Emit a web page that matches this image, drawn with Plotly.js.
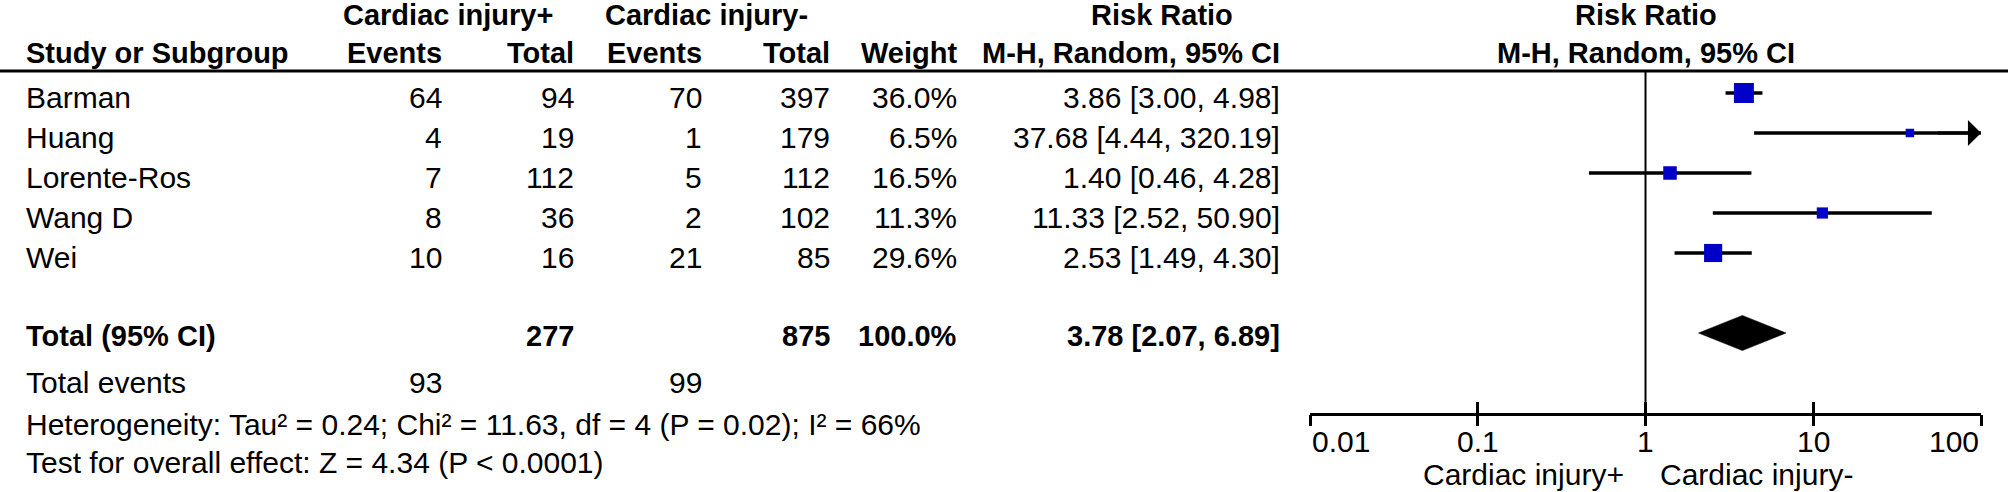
<!DOCTYPE html>
<html>
<head>
<meta charset="utf-8">
<script src="https://cdn.plot.ly/plotly-3.0.1.min.js"></script>
<style>html,body{margin:0;padding:0;background:#fff;}</style>
</head>
<body>
<div id="chart" style="width:2008px;height:492px;"></div>
<script>
// ---------------- DATA ----------------
const studies    = ['Barman', 'Huang', 'Lorente-Ros', 'Wang D', 'Wei'];
const eventsPos  = [64, 4, 7, 8, 10];
const totalPos   = [94, 19, 112, 36, 16];
const eventsNeg  = [70, 1, 5, 2, 21];
const totalNeg   = [397, 179, 112, 102, 85];
const weights    = [36.0, 6.5, 16.5, 11.3, 29.6];
const rr         = [3.86, 37.68, 1.40, 11.33, 2.53];
const rrLower    = [3.00, 4.44, 0.46, 2.52, 1.49];
const rrUpper    = [4.98, 320.19, 4.28, 50.90, 4.30];

const totalLabel   = 'Total (95% CI)';
const totalPosN    = 277;
const totalNegN    = 875;
const totalWeight  = 100.0;
const totalRR      = 3.78;
const totalLower   = 2.07;
const totalUpper   = 6.89;
const totalEvents  = [93, 99];

const groupHeaders = ['Cardiac injury+', 'Cardiac injury-'];
const colHeaders   = ['Study or Subgroup', 'Events', 'Total', 'Events', 'Total', 'Weight', 'M-H, Random, 95% CI'];
const effectTitle  = 'Risk Ratio';
const effectSub    = 'M-H, Random, 95% CI';
const hetText      = 'Heterogeneity: Tau\u00b2 = 0.24; Chi\u00b2 = 11.63, df = 4 (P = 0.02); I\u00b2 = 66%';
const testText     = 'Test for overall effect: Z = 4.34 (P < 0.0001)';
const tickVals     = [0.01, 0.1, 1, 10, 100];
const tickText     = ['0.01', '0.1', '1', '10', '100'];
const favourLabels = ['Cardiac injury+', 'Cardiac injury-'];

// ---------------- LAYOUT CONSTANTS ----------------
const W = 2008, H = 492;
const FONT = 'Liberation Sans, Arial, sans-serif';
const FS = 30, FSB = 29;
const px = v => v / W;                       // pixel x -> paper
const py = v => 1 - v / H;                   // pixel y -> paper
const ROW0 = 93, ROWH = 40;                  // first study row centre, row height (px)
const rowOf = p => (p - ROW0) / ROWH;        // pixel y -> row index
const col = { study: 24, ePos: 444, tPos: 576, eNeg: 704, tNeg: 832, wt: 959, ci: 1282 };
const grpCenter = [448, 706];
const plotL = 1310, plotR = 1981, plotC = (1310 + 1981) / 2;
const axisY = 414, headerLineY = 71;
const R = {
  hdr1: rowOf(15), hdr2: rowOf(53), total: 6, events: rowOf(382),
  het: rowOf(424), test: rowOf(462), tick: rowOf(441), fav: rowOf(474)
};
const bodyShift = -4;
const blue = '#0000C8';

// ---------------- HELPERS ----------------
const fmt2 = v => v.toFixed(2);
const ciStr = (e, l, u) => fmt2(e) + ' [' + fmt2(l) + ', ' + fmt2(u) + ']';
const ann = [];
function txt(xPix, row, text, anchor, bold, shift, xref, xval) {
  ann.push({
    xref: xref || 'paper', x: xref ? xval : px(xPix),
    yref: 'y', y: row, yshift: shift || 0,
    text: bold ? '<b>' + text + '</b>' : text,
    showarrow: false, xanchor: anchor, yanchor: 'middle',
    font: { family: FONT, size: bold ? FSB : FS, color: '#000' }
  });
}

// headers
txt(grpCenter[0], R.hdr1, groupHeaders[0], 'center', true);
txt(grpCenter[1], R.hdr1, groupHeaders[1], 'center', true);
txt((col.ci + 1052) / 2 - 5, R.hdr1, effectTitle, 'center', true);
txt(plotC, R.hdr1, effectTitle, 'center', true);
txt(col.study, R.hdr2, colHeaders[0], 'left', true);
txt(col.ePos, R.hdr2, colHeaders[1], 'right', true);
txt(col.tPos, R.hdr2, colHeaders[2], 'right', true);
txt(col.eNeg, R.hdr2, colHeaders[3], 'right', true);
txt(col.tNeg, R.hdr2, colHeaders[4], 'right', true);
txt(col.wt, R.hdr2, colHeaders[5], 'right', true);
txt(col.ci, R.hdr2, colHeaders[6], 'right', true);
txt(plotC, R.hdr2, effectSub, 'center', true);

// study rows
studies.forEach((s, i) => {
  txt(col.study, i, s, 'left', false, bodyShift);
  txt(col.ePos, i, String(eventsPos[i]), 'right', false, bodyShift);
  txt(col.tPos, i, String(totalPos[i]), 'right', false, bodyShift);
  txt(col.eNeg, i, String(eventsNeg[i]), 'right', false, bodyShift);
  txt(col.tNeg, i, String(totalNeg[i]), 'right', false, bodyShift);
  txt(col.wt, i, weights[i].toFixed(1) + '%', 'right', false, bodyShift);
  txt(col.ci, i, ciStr(rr[i], rrLower[i], rrUpper[i]), 'right', false, bodyShift);
});

// total row
txt(col.study, R.total, totalLabel, 'left', true, -3);
txt(col.tPos, R.total, String(totalPosN), 'right', true, -3);
txt(col.tNeg, R.total, String(totalNegN), 'right', true, -3);
txt(col.wt, R.total, totalWeight.toFixed(1) + '%', 'right', true, -3);
txt(col.ci, R.total, ciStr(totalRR, totalLower, totalUpper), 'right', true, -3);

// total events + stats
txt(col.study, R.events, 'Total events', 'left', false);
txt(col.ePos, R.events, String(totalEvents[0]), 'right', false);
txt(col.eNeg, R.events, String(totalEvents[1]), 'right', false);
txt(col.study, R.het, hetText, 'left', false);
txt(col.study, R.test, testText, 'left', false);

// tick labels (end labels aligned inward)
const axMin = tickVals[0], axMax = tickVals[tickVals.length - 1];
tickVals.forEach((v, i) => {
  const a = i === 0 ? 'left' : (i === tickVals.length - 1 ? 'right' : 'center');
  txt(0, R.tick, tickText[i], a, false, 0, 'x', Math.log10(v));
});
// favours labels
txt(plotC - 20, R.fav, favourLabels[0], 'right', false);
txt(plotC + 12, R.fav, favourLabels[1], 'left', false);

// arrows for CIs beyond the axis
studies.forEach((s, i) => {
  if (rrUpper[i] > axMax) {
    ann.push({
      xref: 'x', x: Math.log10(axMax), yref: 'y', y: i,
      axref: 'pixel', ayref: 'pixel', ax: -45, ay: 0,
      text: '', showarrow: true, arrowhead: 1, arrowsize: 1.45, arrowwidth: 3,
      arrowcolor: '#000', standoff: 0
    });
  }
});

// ---------------- TRACES ----------------
const wx = [], wy = [];
studies.forEach((s, i) => {
  wx.push(Math.max(rrLower[i], axMin), Math.min(rrUpper[i], axMax), null);
  wy.push(i, i, null);
});
const whiskers = {
  type: 'scatter', mode: 'lines', x: wx, y: wy, xaxis: 'x', yaxis: 'y',
  line: { color: '#000', width: 3.5 }, hoverinfo: 'skip'
};
const boxes = {
  type: 'scatter', mode: 'markers', x: rr, y: studies.map((s, i) => i),
  marker: { symbol: 'square', color: blue, opacity: 1, size: weights.map(w => 3.33 * Math.sqrt(w)), line: { width: 0 } },
  cliponaxis: false, hoverinfo: 'skip'
};
const dh = 0.44;
const diamond = {
  type: 'scatter', mode: 'lines', fill: 'toself', fillcolor: '#000',
  x: [totalLower, totalRR, totalUpper, totalRR, totalLower],
  y: [R.total, R.total - dh, R.total, R.total + dh, R.total],
  line: { color: '#000', width: 0.5 }, hoverinfo: 'skip'
};
const tickHelper = {
  type: 'scatter', mode: 'markers', x: tickVals, y: tickVals.map(() => null),
  xaxis: 'x2', yaxis: 'y', marker: { opacity: 0 }, hoverinfo: 'skip'
};

const dom = [px(plotL), px(plotR)];
const axBase = {
  type: 'log', domain: dom, range: [Math.log10(axMin), Math.log10(axMax)],
  anchor: 'free', position: 1 - axisY / H, showgrid: false, zeroline: false,
  tickvals: tickVals, showticklabels: false, tickcolor: '#000', tickwidth: 3, ticklen: 11,
  fixedrange: true
};
const layout = {
  width: W, height: H, margin: { l: 0, r: 0, t: 0, b: 0 },
  paper_bgcolor: '#fff', plot_bgcolor: 'rgba(0,0,0,0)', showlegend: false,
  xaxis: Object.assign({}, axBase, { ticks: 'inside', showline: true, linecolor: '#000', linewidth: 3 }),
  xaxis2: Object.assign({}, axBase, { ticks: 'outside', showline: false, overlaying: 'x' }),
  yaxis: { domain: [0, 1], range: [rowOf(H), rowOf(0)], visible: false, fixedrange: true },
  shapes: [
    { type: 'line', xref: 'paper', yref: 'paper', x0: 0, x1: 1, y0: py(headerLineY), y1: py(headerLineY), line: { color: '#000', width: 3 } },
    { type: 'line', xref: 'x', yref: 'paper', x0: 1, x1: 1, y0: py(axisY), y1: py(headerLineY), line: { color: '#000', width: 2 }, layer: 'below' }
  ],
  annotations: ann
};
Plotly.newPlot('chart', [whiskers, diamond, boxes, tickHelper], layout, { staticPlot: true, displayModeBar: false });
</script>
</body>
</html>
